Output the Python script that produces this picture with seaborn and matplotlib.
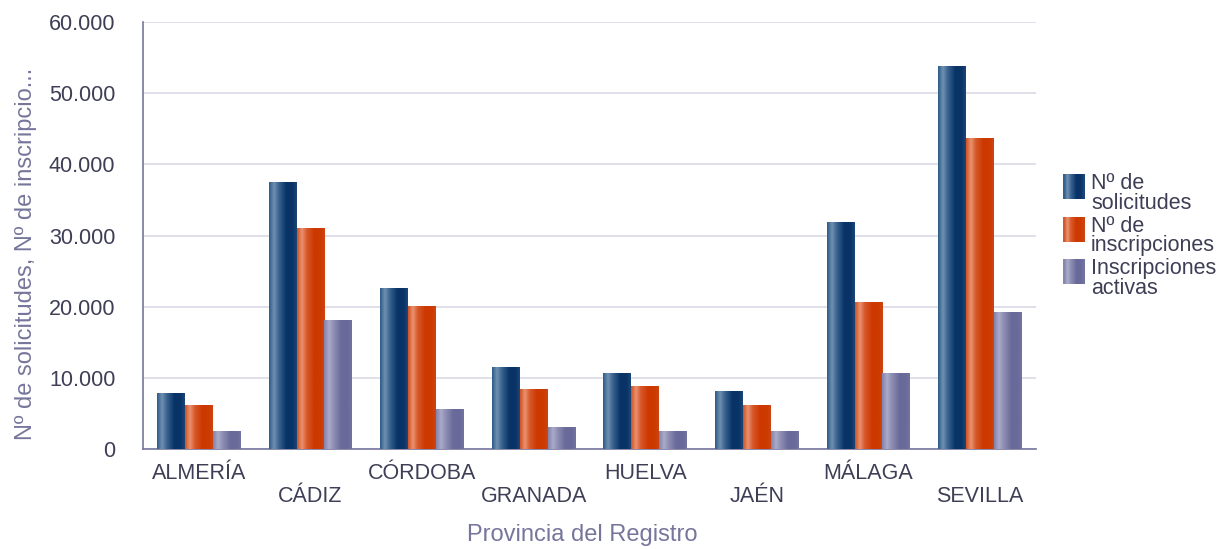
import seaborn as sns
import matplotlib.pyplot as plt
import pandas as pd
import numpy as np
from matplotlib.colors import LinearSegmentedColormap
from matplotlib.patches import Rectangle
from matplotlib.legend_handler import HandlerBase
from matplotlib.ticker import FuncFormatter

provincias = ['ALMERÍA', 'CÁDIZ', 'CÓRDOBA', 'GRANADA', 'HUELVA', 'JAÉN', 'MÁLAGA', 'SEVILLA']
solicitudes = [7900, 37500, 22600, 11600, 10750, 8200, 31900, 53850]
inscripciones = [6250, 31050, 20050, 8500, 8800, 6250, 20600, 43700]
activas = [2600, 18100, 5700, 3150, 2600, 2600, 10750, 19200]
series = ['Nº de\nsolicitudes', 'Nº de\ninscripciones', 'Inscripciones\nactivas']

# stops of the horizontal shading inside each bar
shades = {
    series[0]: ['#2c5a86', '#7090b0', '#3a6390', '#073366', '#0a3468', '#1e4676'],
    series[1]: ['#d05020', '#e99272', '#d8582a', '#cc3800', '#cc3a02', '#cd4512'],
    series[2]: ['#8282aa', '#aaaac9', '#8e8eb4', '#6a6a9a', '#6a6a9a', '#7474a2'],
}
stops = [0.0, 0.18, 0.35, 0.62, 0.85, 1.0]
cmaps = {k: LinearSegmentedColormap.from_list(k, list(zip(stops, v))) for k, v in shades.items()}

df = pd.DataFrame({
    'Provincia': provincias * 3,
    'Serie': np.repeat(series, len(provincias)),
    'Valor': solicitudes + inscripciones + activas,
})

text_col = '#3e3e56'
axis_col = '#76769c'

sns.set_style('white')
plt.rcParams['font.family'] = ['Liberation Sans', 'DejaVu Sans']

fig = plt.figure(figsize=(12.23, 5.49), dpi=100)
ax = fig.add_axes([0.117, 0.182, 0.730, 0.778])

sns.barplot(data=df, x='Provincia', y='Valor', hue='Serie', order=provincias,
            hue_order=series, palette=[shades[s][3] for s in series],
            width=0.75, ax=ax, legend=False)

grad = np.linspace(0, 1, 256).reshape(1, -1)
bars = [p for p in ax.patches if p.get_height() > 0]
for i, bar in enumerate(bars):
    s = series[i // len(provincias)]
    x0, w, h = bar.get_x(), bar.get_width(), bar.get_height()
    im = ax.imshow(grad, cmap=cmaps[s], aspect='auto', extent=(x0, x0 + w, 0, h),
                   zorder=3, interpolation='bilinear')
    im.set_clip_path(bar)
    bar.set_alpha(0)

ax.set_xlim(-0.5, len(provincias) - 0.5)
ax.set_ylim(0, 60000)
ax.set_yticks(range(0, 60001, 10000))
ax.yaxis.set_major_formatter(FuncFormatter(lambda v, _: f'{int(v):,}'.replace(',', '.')))
ax.grid(axis='y', color='#dcdae6', linewidth=1.2)
ax.set_axisbelow(True)
for side in ['top', 'right']:
    ax.spines[side].set_visible(False)
for side in ['left', 'bottom']:
    ax.spines[side].set_color(axis_col)
    ax.spines[side].set_linewidth(1.2)

ax.tick_params(axis='both', length=0, labelsize=15.5, labelcolor=text_col)
ax.tick_params(axis='y', pad=20)
ax.tick_params(axis='x', pad=10)
for i, lab in enumerate(ax.get_xticklabels()):
    if i % 2:
        lab.set_y(-0.054)

ax.set_xlabel('')
ax.set_ylabel('')
fig.text(0.476, 0.026, 'Provincia del Registro', fontsize=17, color=axis_col,
         ha='center', va='center')
fig.text(0.021, 0.537, 'Nº de solicitudes, Nº de inscripcio...', fontsize=17,
         color=axis_col, rotation=90, ha='center', va='center')


class GradientHandler(HandlerBase):
    def create_artists(self, legend, orig, xd, yd, width, height, fontsize, trans):
        cmap = cmaps[orig.get_label()]
        n = 20
        arts = []
        for k in range(n):
            r = Rectangle((xd + width * k / n, yd - 1), width / n + 0.3, height + 2,
                          facecolor=cmap((k + 0.5) / n), edgecolor='none', transform=trans)
            arts.append(r)
        return arts


handles = [Rectangle((0, 0), 1, 1, label=s) for s in series]
leg = fig.legend(handles=handles, labels=series, handler_map={Rectangle: GradientHandler()},
                 loc='center left', bbox_to_anchor=(0.8625, 0.57), frameon=False,
                 fontsize=15.5, labelcolor=text_col, handlelength=0.98, handleheight=1.2,
                 handletextpad=0.3, labelspacing=0.1, borderaxespad=0)
for t in leg.get_texts():
    t.set_linespacing(0.9)

fig.savefig('out.png', dpi=100)
